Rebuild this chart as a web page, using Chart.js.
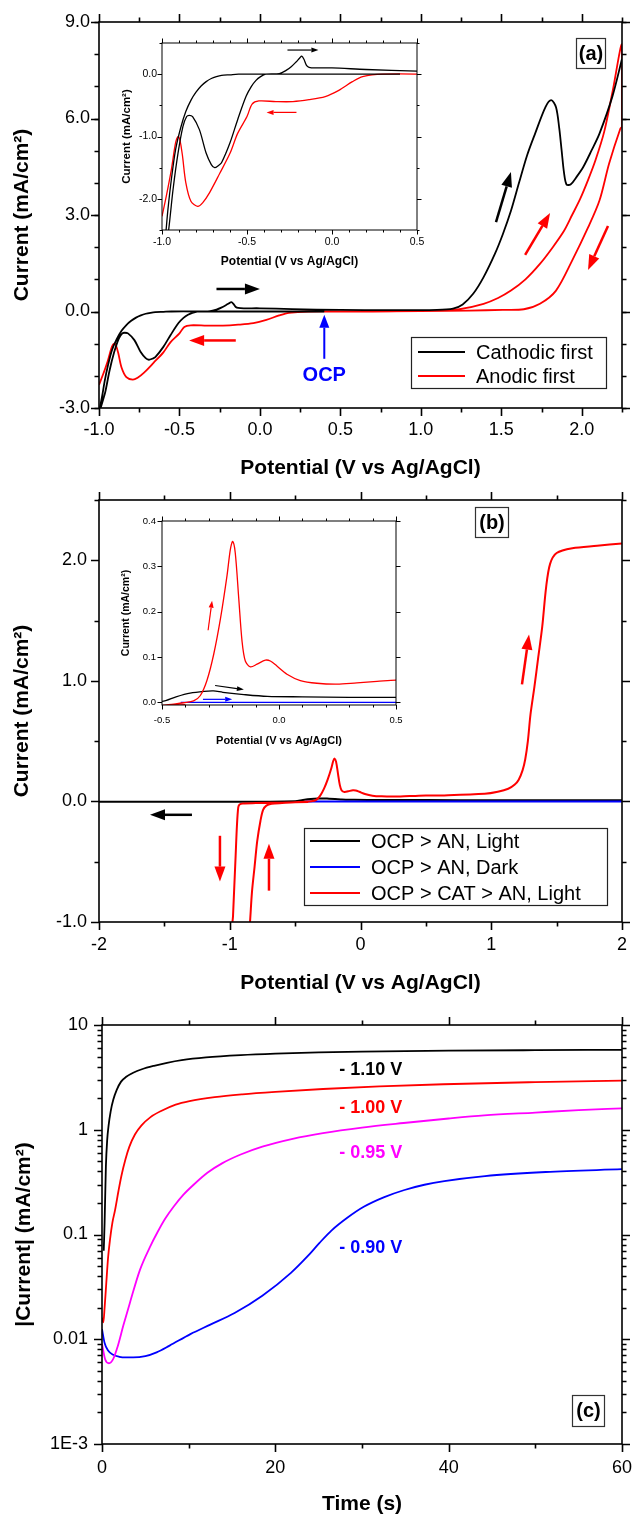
<!DOCTYPE html>
<html>
<head>
<meta charset="utf-8">
<script src="https://cdn.jsdelivr.net/npm/chart.js@4.4.1/dist/chart.umd.min.js"></script>
<style>
  body { margin: 0; background: #fff; }
  #page { position: relative; width: 633px; height: 1517px; }
  canvas { position: absolute; }
</style>
</head>
<body>
<div id="page">
  <canvas id="chartA" width="633" height="490" style="left:0;top:0"></canvas>
  <canvas id="insetA" width="325" height="240" style="left:105px;top:35px"></canvas>
  <canvas id="chartB" width="633" height="510" style="left:0;top:490px"></canvas>
  <canvas id="insetB" width="325" height="250" style="left:105px;top:510px"></canvas>
  <canvas id="chartC" width="633" height="517" style="left:0;top:1000px"></canvas>
</div>
<script>
// ---- panel (a): CV, cathodic first vs anodic first ----
const aCathodicV = [0.40, 0.20, 0.00, -0.20, -0.40, -0.55, -0.60, -0.65, -0.68, -0.71, -0.74, -0.77, -0.80, -0.83, -0.86, -0.89, -0.92, -0.945, -0.965, -0.98, -1.00,
  -0.975, -0.96, -0.935, -0.906, -0.877, -0.855, -0.84, -0.82, -0.78, -0.74, -0.71, -0.69, -0.67, -0.65, -0.60, -0.555, -0.506, -0.475, -0.447, -0.42, -0.39, -0.31, -0.27, -0.24, -0.21, -0.19, -0.178, -0.165, -0.15, -0.135, -0.10, 0.00, 0.20, 0.50, 0.80, 1.10,
  1.20, 1.26, 1.325, 1.39, 1.46, 1.51, 1.56, 1.61, 1.66, 1.71, 1.775, 1.81, 1.84, 1.86, 1.875, 1.89, 1.905, 1.93, 1.97, 2.01, 2.06, 2.11, 2.19, 2.25];
const aCathodicI = [0.00, 0.00, 0.00, 0.00, 0.00, 0.00, -0.01, -0.02, -0.04, -0.07, -0.12, -0.19, -0.29, -0.42, -0.60, -0.86, -1.21, -1.69, -2.17, -2.62, -3.15,
  -2.75, -2.48, -1.85, -1.27, -0.84, -0.68, -0.66, -0.68, -0.89, -1.27, -1.45, -1.50, -1.47, -1.42, -1.10, -0.73, -0.36, -0.20, -0.10, -0.04, 0.00, 0.01, 0.06, 0.12, 0.20, 0.26, 0.29, 0.24, 0.14, 0.11, 0.10, 0.10, 0.075, 0.05, 0.04, 0.05,
  0.09, 0.22, 0.55, 1.07, 1.79, 2.41, 3.13, 4.00, 4.85, 5.53, 6.36, 6.57, 6.35, 5.70, 5.00, 4.30, 3.95, 3.95, 4.20, 4.50, 5.00, 5.53, 6.68, 7.85];
const aAnodicV = [0.40, 0.70, 1.00, 1.15, 1.25, 1.39, 1.48, 1.56, 1.65, 1.74, 1.82, 1.89, 1.94, 1.99, 2.04, 2.085, 2.14, 2.19, 2.25,
  2.25, 2.24, 2.17, 2.11, 2.04, 1.94, 1.84, 1.74, 1.64, 1.51, 1.30, 1.00, 0.60, 0.30, 0.18, 0.12, 0.04, -0.04, -0.135, -0.23, -0.33, -0.43, -0.47, -0.50, -0.555, -0.60, -0.66, -0.72, -0.76, -0.79, -0.83, -0.86, -0.88, -0.895, -0.905, -0.92, -0.945, -0.975, -1.00];
const aAnodicI = [0.00, 0.00, 0.01, 0.03, 0.08, 0.24, 0.42, 0.65, 1.00, 1.48, 2.00, 2.51, 3.00, 3.50, 4.10, 4.70, 5.60, 6.80, 8.30,
  5.75, 5.69, 4.60, 3.45, 2.62, 1.58, 0.65, 0.24, 0.07, 0.05, 0.03, 0.01, 0.00, 0.00, -0.04, -0.12, -0.26, -0.36, -0.41, -0.44, -0.44, -0.43, -0.48, -0.68, -0.95, -1.27, -1.59, -1.90, -2.06, -2.12, -2.04, -1.74, -1.30, -1.05, -1.00, -1.10, -1.53, -1.96, -2.28];
const aXTicks = [-1.0, -0.5, 0.0, 0.5, 1.0, 1.5, 2.0];
const aXTickLabels = ['-1.0', '-0.5', '0.0', '0.5', '1.0', '1.5', '2.0'];
const aYTicks = [-3, 0, 3, 6, 9];
const aYTickLabels = ['-3.0', '0.0', '3.0', '6.0', '9.0'];
const aInsetXTicks = [-1.0, -0.5, 0.0, 0.5];
const aInsetXTickLabels = ['-1.0', '-0.5', '0.0', '0.5'];
const aInsetYTicks = [-2, -1, 0];
const aInsetYTickLabels = ['-2.0', '-1.0', '0.0'];

// ---- panel (b): OCP > AN vs OCP > CAT > AN ----
const bLightV = [-2.0, -1.0, -0.5, -0.44, -0.38, -0.32, -0.28, -0.24, -0.15, -0.05, 0.10, 0.30, 0.50, 1.00, 1.50, 2.00];
const bLightI = [-0.003, -0.003, 0.002, 0.012, 0.020, 0.024, 0.025, 0.022, 0.017, 0.013, 0.012, 0.011, 0.011, 0.010, 0.010, 0.010];
const bDarkV = [-0.42, 0.0, 1.0, 2.0];
const bDarkI = [0.0, 0.0, 0.0, 0.0];
const bCatV = [-0.40, -0.60, -0.80, -0.90, -0.925, -0.935, -0.945, -0.955, -0.965, -0.975, -0.985,
  -0.86, -0.845, -0.83, -0.81, -0.79, -0.765, -0.745, -0.72, -0.68, -0.60, -0.50, -0.45, -0.407, -0.365, -0.336, -0.308, -0.279, -0.25, -0.222, -0.208, -0.198, -0.187, -0.172, -0.158, -0.144, -0.122, -0.094, -0.058, -0.037, -0.009, 0.034, 0.091, 0.162, 0.248, 0.333, 0.419, 0.50,
  0.64, 0.95, 1.05, 1.13, 1.18, 1.21, 1.24, 1.26, 1.28, 1.30, 1.33, 1.36, 1.39, 1.42, 1.45, 1.50, 1.62, 1.81, 2.00];
const bCatI = [-0.005, -0.010, -0.014, -0.017, -0.025, -0.05, -0.20, -0.45, -0.70, -0.95, -1.20,
  -1.20, -1.00, -0.75, -0.54, -0.33, -0.16, -0.07, -0.035, -0.020, -0.013, -0.007, -0.004, -0.001, 0.003, 0.015, 0.048, 0.106, 0.185, 0.280, 0.337, 0.355, 0.330, 0.229, 0.135, 0.091, 0.078, 0.084, 0.093, 0.091, 0.080, 0.062, 0.048, 0.042, 0.040, 0.043, 0.046, 0.049,
  0.050, 0.063, 0.080, 0.105, 0.14, 0.18, 0.26, 0.35, 0.50, 0.72, 0.95, 1.20, 1.45, 1.78, 1.97, 2.06, 2.10, 2.12, 2.14];
const bXTicks = [-2, -1, 0, 1, 2];
const bXTickLabels = ['-2', '-1', '0', '1', '2'];
const bYTicks = [-1, 0, 1, 2];
const bYTickLabels = ['-1.0', '0.0', '1.0', '2.0'];
const bInsetXTicks = [-0.5, 0.0, 0.5];
const bInsetXTickLabels = ['-0.5', '0.0', '0.5'];
const bInsetYTicks = [0.0, 0.1, 0.2, 0.3, 0.4];
const bInsetYTickLabels = ['0.0', '0.1', '0.2', '0.3', '0.4'];

// ---- panel (c): chronoamperometry, |I| vs t ----
const c110T = [0.2, 0.3, 0.45, 0.6, 0.75, 1.0, 1.3, 1.7, 2.2, 2.8, 3.6, 4.6, 6.0, 7.5, 9.2, 12, 16, 20, 25, 30, 35, 40, 50, 60];
const c110I = [0.07, 0.13, 0.45, 0.8, 1.08, 1.5, 1.93, 2.4, 2.88, 3.2, 3.5, 3.78, 4.08, 4.36, 4.62, 4.9, 5.15, 5.32, 5.47, 5.57, 5.64, 5.69, 5.75, 5.8];
const c100T = [0.0, 0.15, 0.3, 0.5, 0.7, 0.92, 1.2, 1.5, 1.9, 2.23, 2.7, 3.16, 3.8, 4.56, 5.6, 6.88, 8.5, 10.1, 13, 16.2, 20, 25.5, 32, 39.4, 50, 60];
const c100I = [0.016, 0.0145, 0.02, 0.035, 0.06, 0.089, 0.13, 0.17, 0.26, 0.36, 0.52, 0.69, 0.9, 1.1, 1.32, 1.52, 1.74, 1.88, 2.05, 2.18, 2.3, 2.45, 2.59, 2.72, 2.85, 2.95];
const c095T = [0.0, 0.37, 0.8, 1.3, 1.8, 2.46, 3.2, 4.38, 5.5, 6.4, 7.3, 8.3, 9.4, 10.6, 12.2, 13.9, 16, 18.5, 22, 25.5, 30, 34.8, 40, 44.1, 50, 55, 60];
const c095I = [0.009, 0.0064, 0.0059, 0.0065, 0.0085, 0.0135, 0.022, 0.046, 0.075, 0.105, 0.142, 0.186, 0.24, 0.3, 0.39, 0.48, 0.58, 0.69, 0.82, 0.93, 1.05, 1.16, 1.28, 1.37, 1.46, 1.54, 1.6];
const c090T = [0.0, 0.3, 0.7, 1.3, 2.0, 2.7, 3.6, 5.0, 6.3, 7.8, 10.2, 12.5, 15.3, 18.5, 21.8, 23.7, 25.1, 26.5, 28.3, 30.2, 32.5, 34.9, 37.2, 39.5, 44.2, 51.2, 60];
const c090I = [0.0125, 0.0092, 0.0078, 0.0071, 0.0068, 0.0067, 0.0067, 0.0069, 0.0075, 0.0087, 0.0112, 0.0138, 0.0178, 0.026, 0.043, 0.0617, 0.0832, 0.1096, 0.1445, 0.184, 0.2265, 0.266, 0.2985, 0.3236, 0.3614, 0.395, 0.42];
const cXTicks = [0, 20, 40, 60];
const cXTickLabels = ['0', '20', '40', '60'];
const cYTicks = [0.001, 0.01, 0.1, 1, 10];
const cYTickLabels = ['1E-3', '0.01', '0.1', '1', '10'];

const FONT = '"Liberation Sans", Arial, sans-serif';
Chart.defaults.font.family = FONT;
Chart.defaults.color = '#000';

const pts = (xs, ys) => xs.map((x, i) => ({ x, y: ys[i] }));
const steps = (a, b, d) => { const out = []; for (let v = a; v <= b + 1e-9; v += d) out.push(+v.toFixed(6)); return out; };
const decadeMinors = (lo, hi) => { const out = []; for (let e = lo; e < hi; e++) for (let k = 2; k <= 9; k++) out.push(k * Math.pow(10, e)); return out; };

function drawArrow(ctx, x1, y1, x2, y2, a) {
  const ang = Math.atan2(y2 - y1, x2 - x1);
  const bx = x2 - Math.cos(ang) * a.head, by = y2 - Math.sin(ang) * a.head;
  ctx.strokeStyle = ctx.fillStyle = a.color;
  ctx.lineWidth = a.width;
  ctx.beginPath(); ctx.moveTo(x1, y1); ctx.lineTo(bx, by); ctx.stroke();
  ctx.beginPath(); ctx.moveTo(x2, y2);
  ctx.lineTo(bx + Math.sin(ang) * a.half, by - Math.cos(ang) * a.half);
  ctx.lineTo(bx - Math.sin(ang) * a.half, by + Math.cos(ang) * a.half);
  ctx.closePath(); ctx.fill();
}

// box + outward tick marks on all four sides
const frame = {
  id: 'frame',
  afterDraw(chart, args, o) {
    const { ctx, chartArea: a, scales: { x, y } } = chart;
    ctx.save();
    ctx.strokeStyle = '#000';
    ctx.lineWidth = o.lineWidth;
    ctx.strokeRect(a.left, a.top, a.right - a.left, a.bottom - a.top);
    const mark = (scale, vals, len) => vals.forEach(v => {
      const p = Math.round(scale.getPixelForValue(v)) + 0.5;
      ctx.beginPath();
      if (scale.isHorizontal()) {
        ctx.moveTo(p, a.bottom); ctx.lineTo(p, a.bottom + len);
        ctx.moveTo(p, a.top); ctx.lineTo(p, a.top - len);
      } else {
        ctx.moveTo(a.left, p); ctx.lineTo(a.left - len, p);
        ctx.moveTo(a.right, p); ctx.lineTo(a.right + len, p);
      }
      ctx.stroke();
    });
    mark(x, o.xMinor, o.minor); mark(y, o.yMinor, o.minor);
    mark(x, o.xMajor, o.major); mark(y, o.yMajor, o.major);
    ctx.restore();
  }
};

// arrows, free labels, panel tag and legend
const notes = {
  id: 'notes',
  afterDraw(chart, args, o) {
    const { ctx, scales: { x, y } } = chart;
    const X = v => x.getPixelForValue(v), Y = v => y.getPixelForValue(v);
    ctx.save();
    (o.arrows || []).forEach(a => drawArrow(ctx, X(a.from[0]), Y(a.from[1]), X(a.to[0]), Y(a.to[1]), a));
    ctx.textAlign = 'center'; ctx.textBaseline = 'middle';
    (o.labels || []).forEach(t => {
      ctx.font = t.font; ctx.fillStyle = t.color;
      ctx.fillText(t.text, X(t.at[0]), Y(t.at[1]));
    });
    if (o.tag) {
      const g = o.tag;
      ctx.strokeStyle = '#333'; ctx.lineWidth = 1.2;
      ctx.strokeRect(g.x + 0.5, g.y + 0.5, g.w, g.h);
      ctx.font = 'bold 20px ' + FONT; ctx.fillStyle = '#000';
      ctx.fillText(g.text, g.x + g.w / 2 + 0.5, g.y + g.h / 2 + 1);
    }
    if (o.legend) {
      const l = o.legend;
      ctx.strokeStyle = '#222'; ctx.lineWidth = 1.2;
      ctx.strokeRect(l.x + 0.5, l.y + 0.5, l.w, l.h);
      ctx.font = '20px ' + FONT; ctx.textAlign = 'left';
      chart.data.datasets.forEach((d, i) => {
        const ry = l.rows[i];
        ctx.strokeStyle = d.borderColor; ctx.lineWidth = 2;
        ctx.beginPath(); ctx.moveTo(l.line[0], ry); ctx.lineTo(l.line[1], ry); ctx.stroke();
        ctx.fillStyle = '#000';
        ctx.fillText(d.label, l.textX, ry + 1);
      });
    }
    ctx.restore();
  }
};

function makeChart(id, c) {
  const axis = (ticks, labels, size, fit, title, extra) => Object.assign({
    afterFit: s => {
      if (s.isHorizontal()) { s.height = size; s.paddingLeft = 0; s.paddingRight = 0; }
      else { s.width = size; s.paddingTop = 0; s.paddingBottom = 0; }
    },
    afterBuildTicks: s => { s.ticks = ticks.map(v => ({ value: v })); },
    grid: { display: false, drawTicks: false },
    border: { display: false },
    ticks: {
      autoSkip: false, maxRotation: 0, padding: fit.pad,
      font: { size: fit.font }, color: '#000',
      callback: v => { const i = ticks.indexOf(v); return i < 0 ? '' : labels[i]; }
    },
    title: { display: true, text: title.text, color: '#000', font: { size: title.size, weight: 'bold' }, padding: title.padding }
  }, extra);
  return new Chart(document.getElementById(id), {
    type: 'scatter',
    data: {
      datasets: c.series.map(s => ({
        label: s.label, data: pts(s.x, s.y), showLine: true,
        borderColor: s.color, backgroundColor: s.color, borderWidth: c.lineWidth,
        pointRadius: 0, tension: c.mono ? 0 : 0.3,
        cubicInterpolationMode: c.mono ? 'monotone' : 'default', order: s.order || 0
      }))
    },
    options: {
      responsive: false, animation: false, devicePixelRatio: 1,
      layout: { padding: c.padding },
      plugins: {
        legend: { display: false }, tooltip: { enabled: false },
        frame: c.frame, notes: c.notes || {}
      },
      scales: {
        x: axis(c.x.ticks, c.x.labels, c.x.size, c.x, c.x.title, { type: 'linear', min: c.x.min, max: c.x.max }),
        y: axis(c.y.ticks, c.y.labels, c.y.size, c.y, c.y.title, { type: c.y.type || 'linear', min: c.y.min, max: c.y.max })
      }
    },
    plugins: [frame, notes]
  });
}

const RED = '#ff0000', BLACK = '#000000', BLUE = '#0000ff', MAGENTA = '#ff00ff';
const bigArrow = { width: 2.5, head: 15, half: 5.5 };
const smallArrow = { width: 1.2, head: 7, half: 2.5 };
const yTitle = 'Current (mA/cm²)';
const xTitle = 'Potential (V vs Ag/AgCl)';

const aSeries = [
  { label: 'Cathodic first', x: aCathodicV, y: aCathodicI, color: BLACK },
  { label: 'Anodic first', x: aAnodicV, y: aAnodicI, color: RED }
];

makeChart('chartA', {
  series: aSeries, lineWidth: 1.8,
  padding: { top: 22, right: 11, left: 0, bottom: 0 },
  x: { min: -1, max: 2.25, ticks: aXTicks, labels: aXTickLabels, size: 82, pad: 11, font: 18,
       title: { text: xTitle, size: 21, padding: { top: 0, bottom: 9 } } },
  y: { min: -3, max: 9, ticks: aYTicks, labels: aYTickLabels, size: 99, pad: 9, font: 18,
       title: { text: yTitle, size: 21, padding: { top: 10, bottom: 0 } } },
  frame: { lineWidth: 1.6, major: 8, minor: 4.5, xMajor: steps(-1, 2, 0.5), xMinor: steps(-0.75, 2.25, 0.5), yMajor: aYTicks, yMinor: steps(-3, 9, 1) },
  notes: {
    arrows: [
      Object.assign({ from: [-0.27, 0.7], to: [0.0, 0.7], color: BLACK }, bigArrow),
      Object.assign({ from: [-0.15, -0.9], to: [-0.44, -0.9], color: RED }, bigArrow),
      { from: [0.4, -1.47], to: [0.4, -0.1], color: BLUE, width: 2, head: 13, half: 5 },
      Object.assign({ from: [1.467, 2.78], to: [1.56, 4.34], color: BLACK }, bigArrow),
      Object.assign({ from: [1.648, 1.757], to: [1.803, 3.06], color: RED }, bigArrow),
      Object.assign({ from: [2.163, 2.66], to: [2.039, 1.29], color: RED }, bigArrow)
    ],
    labels: [{ text: 'OCP', at: [0.4, -2.0], color: BLUE, font: 'bold 20px ' + FONT }],
    tag: { x: 576, y: 38, w: 29, h: 30, text: '(a)' },
    legend: { x: 411, y: 337, w: 195, h: 51, rows: [352, 376], line: [418, 465], textX: 476 }
  }
});

makeChart('insetA', {
  series: aSeries, lineWidth: 1.3,
  padding: { top: 8, right: 13, left: 0, bottom: 0 },
  x: { min: -1, max: 0.5, ticks: aInsetXTicks, labels: aInsetXTickLabels, size: 45, pad: 6, font: 10.5,
       title: { text: xTitle, size: 12, padding: { top: 0, bottom: 6 } } },
  y: { min: -2.5, max: 0.5, ticks: aInsetYTicks, labels: aInsetYTickLabels, size: 57, pad: 5, font: 10.5,
       title: { text: yTitle, size: 11.5, padding: { top: 15, bottom: 0 } } },
  frame: { lineWidth: 1, major: 4.5, minor: 2.5, xMajor: aInsetXTicks, xMinor: steps(-1, 0.5, 0.1), yMajor: aInsetYTicks, yMinor: steps(-2.5, 0.5, 0.5) },
  notes: {
    arrows: [
      Object.assign({ from: [-0.262, 0.387], to: [-0.08, 0.387], color: BLACK }, smallArrow),
      Object.assign({ from: [-0.209, -0.613], to: [-0.385, -0.613], color: RED }, smallArrow)
    ]
  }
});

const bSeries = [
  { label: 'OCP > AN, Light', x: bLightV, y: bLightI, color: BLACK, order: 2 },
  { label: 'OCP > AN, Dark', x: bDarkV, y: bDarkI, color: BLUE, order: 1 },
  { label: 'OCP > CAT > AN, Light', x: bCatV, y: bCatI, color: RED, order: 0 }
];

makeChart('chartB', {
  series: bSeries, lineWidth: 2,
  padding: { top: 10, right: 11, left: 0, bottom: 0 },
  x: { min: -2, max: 2, ticks: bXTicks, labels: bXTickLabels, size: 78, pad: 12, font: 18,
       title: { text: xTitle, size: 21, padding: { top: 0, bottom: 4 } } },
  y: { min: -1, max: 2.5, ticks: bYTicks, labels: bYTickLabels, size: 99, pad: 12, font: 18,
       title: { text: yTitle, size: 21, padding: { top: 10, bottom: 0 } } },
  frame: { lineWidth: 1.6, major: 8, minor: 4.5, xMajor: bXTicks, xMinor: steps(-1.5, 1.5, 1), yMajor: bYTicks, yMinor: steps(-0.5, 2.5, 1) },
  notes: {
    arrows: [
      Object.assign({ from: [1.235, 0.971], to: [1.289, 1.384], color: RED }, bigArrow),
      Object.assign({ from: [-1.075, -0.285], to: [-1.075, -0.665], color: RED }, bigArrow),
      Object.assign({ from: [-0.7, -0.74], to: [-0.7, -0.351], color: RED }, bigArrow),
      Object.assign({ from: [-1.289, -0.111], to: [-1.61, -0.111], color: BLACK }, bigArrow)
    ],
    tag: { x: 475, y: 17, w: 33, h: 30, text: '(b)' },
    legend: { x: 304, y: 338, w: 303, h: 77, rows: [351, 377, 403], line: [310, 360], textX: 371 }
  }
});

makeChart('insetB', {
  series: bSeries, lineWidth: 1.3,
  padding: { top: 11, right: 34, left: 0, bottom: 0 },
  x: { min: -0.5, max: 0.5, ticks: bInsetXTicks, labels: bInsetXTickLabels, size: 55, pad: 10, font: 9.5,
       title: { text: xTitle, size: 11, padding: { top: 0, bottom: 12 } } },
  y: { min: -0.006, max: 0.4, ticks: bInsetYTicks, labels: bInsetYTickLabels, size: 57, pad: 6, font: 9.5,
       title: { text: yTitle, size: 10.5, padding: { top: 15, bottom: 0 } } },
  frame: { lineWidth: 1, major: 4.5, minor: 2.5, xMajor: bInsetXTicks, xMinor: steps(-0.5, 0.5, 0.1), yMajor: bInsetYTicks, yMinor: [] },
  notes: {
    arrows: [
      Object.assign({ from: [-0.303, 0.159], to: [-0.286, 0.224], color: RED }, smallArrow),
      Object.assign({ from: [-0.273, 0.037], to: [-0.15, 0.028], color: BLACK }, smallArrow),
      Object.assign({ from: [-0.325, 0.0065], to: [-0.2, 0.0065], color: BLUE }, smallArrow)
    ]
  }
});

makeChart('chartC', {
  series: [
    { label: '- 1.10 V', x: c110T, y: c110I, color: BLACK },
    { label: '- 1.00 V', x: c100T, y: c100I, color: RED },
    { label: '- 0.95 V', x: c095T, y: c095I, color: MAGENTA },
    { label: '- 0.90 V', x: c090T, y: c090I, color: BLUE }
  ],
  lineWidth: 1.8, mono: true,
  padding: { top: 25, right: 11, left: 0, bottom: 0 },
  x: { min: 0, max: 60, ticks: cXTicks, labels: cXTickLabels, size: 73, pad: 13, font: 18,
       title: { text: 'Time (s)', size: 21, padding: { top: 0, bottom: 0 } } },
  y: { type: 'logarithmic', min: 0.001, max: 10, ticks: cYTicks, labels: cYTickLabels, size: 102, pad: 14, font: 18,
       title: { text: '|Current| (mA/cm²)', size: 21, padding: { top: 12, bottom: 0 } } },
  frame: { lineWidth: 1.6, major: 8, minor: 4.5, xMajor: cXTicks, xMinor: [10, 30, 50], yMajor: cYTicks, yMinor: decadeMinors(-3, 1) },
  notes: {
    labels: [
      { text: '- 1.10 V', at: [31, 3.73], color: BLACK, font: 'bold 18px ' + FONT },
      { text: '- 1.00 V', at: [31, 1.62], color: RED, font: 'bold 18px ' + FONT },
      { text: '- 0.95 V', at: [31, 0.60], color: MAGENTA, font: 'bold 18px ' + FONT },
      { text: '- 0.90 V', at: [31, 0.075], color: BLUE, font: 'bold 18px ' + FONT }
    ],
    tag: { x: 572, y: 395, w: 32, h: 31, text: '(c)' }
  }
});
</script>
</body>
</html>
